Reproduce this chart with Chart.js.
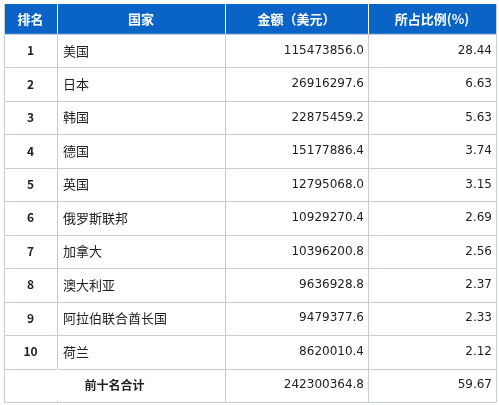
<!DOCTYPE html><html><head><meta charset="utf-8">
<script src="https://cdn.jsdelivr.net/npm/chart.js@4"></script>
<style>html,body{margin:0;padding:0;background:#fff}</style></head><body>
<canvas id="c" width="499" height="405"></canvas>
<script>
const headers=["排名","国家","金额（美元）","所占比例(%)"];
const ranks=["1","2","3","4","5","6","7","8","9","10"];
const countries=["美国","日本","韩国","德国","英国","俄罗斯联邦","加拿大","澳大利亚","阿拉伯联合酋长国","荷兰"];
const amounts=["115473856.0","26916297.6","22875459.2","15177886.4","12795068.0","10929270.4","10396200.8","9636928.8","9479377.6","8620010.4"];
const shares=["28.44","6.63","5.63","3.74","3.15","2.69","2.56","2.37","2.33","2.12"];
const totalLabel="前十名合计", totalAmount="242300364.8", totalShare="59.67";
const rows=["h",...ranks,"t"];
const colEdges=[0,53,221,364,492];
const font='"Noto Sans CJK SC", sans-serif';
const tablePlugin={id:'table',afterDraw(ch){
 const c=ch.ctx,x=ch.scales.x,y=ch.scales.y;
 const X=v=>x.getPixelForValue(v);
 const rowH=Math.abs(y.getPixelForValue(1)-y.getPixelForValue(0));
 const top=i=>y.getPixelForValue(i)-rowH/2;
 c.save();
 c.fillStyle='#0a64c8';c.fillRect(X(0),top(0),X(492)-X(0),rowH*0.9);
 const hH=rowH*0.9;
 const rH=(y.getPixelForValue(rows.length-1)+rowH/2-top(0)-hH)/(rows.length-1);
 const rt=i=>i===0?top(0):top(0)+hH+(i-1)*rH;
 c.textBaseline='middle';
 c.font='bold 13px '+font;c.fillStyle='#fff';c.textAlign='center';
 headers.forEach((h,j)=>c.fillText(h,(X(colEdges[j])+X(colEdges[j+1]))/2,top(0)+hH/2));
 c.strokeStyle='#c8ccd4';c.lineWidth=1;
 for(let i=1;i<=rows.length;i++){const yy=Math.round(rt(i))+0.5;c.beginPath();c.moveTo(X(0),yy);c.lineTo(X(492),yy);c.stroke();}
 colEdges.forEach(e=>{const xx=Math.round(X(e))+0.5;c.beginPath();c.moveTo(xx,top(0));c.lineTo(xx,rt(rows.length));c.stroke();});
 c.strokeStyle='#ffffff';
 [1,2,3].forEach(j=>{const xx=Math.round(X(colEdges[j]))+0.5;c.beginPath();c.moveTo(xx,top(0));c.lineTo(xx,top(0)+hH);c.stroke();});
 c.fillStyle='#222';
 for(let i=0;i<ranks.length;i++){
  const cy=rt(i+1)+rH/2;
  c.font='bold 12px '+font;c.textAlign='center';c.fillText(ranks[i],(X(0)+X(53))/2,cy);
  c.font='13px '+font;c.textAlign='left';c.fillText(countries[i],X(53)+6,cy);
  c.font='12px "DejaVu Sans"';c.textAlign='right';c.fillText(amounts[i],X(364)-4,cy);c.fillText(shares[i],X(492)-4,cy);
 }
 const cy=rt(11)+rH/2;
 c.fillStyle='#222';c.font='bold 12px '+font;c.textAlign='center';c.fillText(totalLabel,(X(0)+X(221))/2,cy);
 c.fillStyle='#fff';c.fillRect(X(53)-1,rt(11)+1,3,rH-2);
 c.fillStyle='#222';c.font='12px "DejaVu Sans"';c.textAlign='right';c.fillText(totalAmount,X(364)-4,cy);c.fillText(totalShare,X(492)-4,cy);
 c.restore();
}};
new Chart(document.getElementById('c'),{type:'scatter',
 data:{labels:rows,datasets:[{data:[]}]},
 options:{responsive:false,animation:false,events:[],
  layout:{padding:{left:4,right:3,top:4,bottom:3}},
  plugins:{legend:{display:false},tooltip:{enabled:false}},
  scales:{x:{type:'linear',min:0,max:492,display:false},
   y:{type:'category',labels:rows,offset:true,display:false}}},
 plugins:[tablePlugin]});
</script></body></html>
